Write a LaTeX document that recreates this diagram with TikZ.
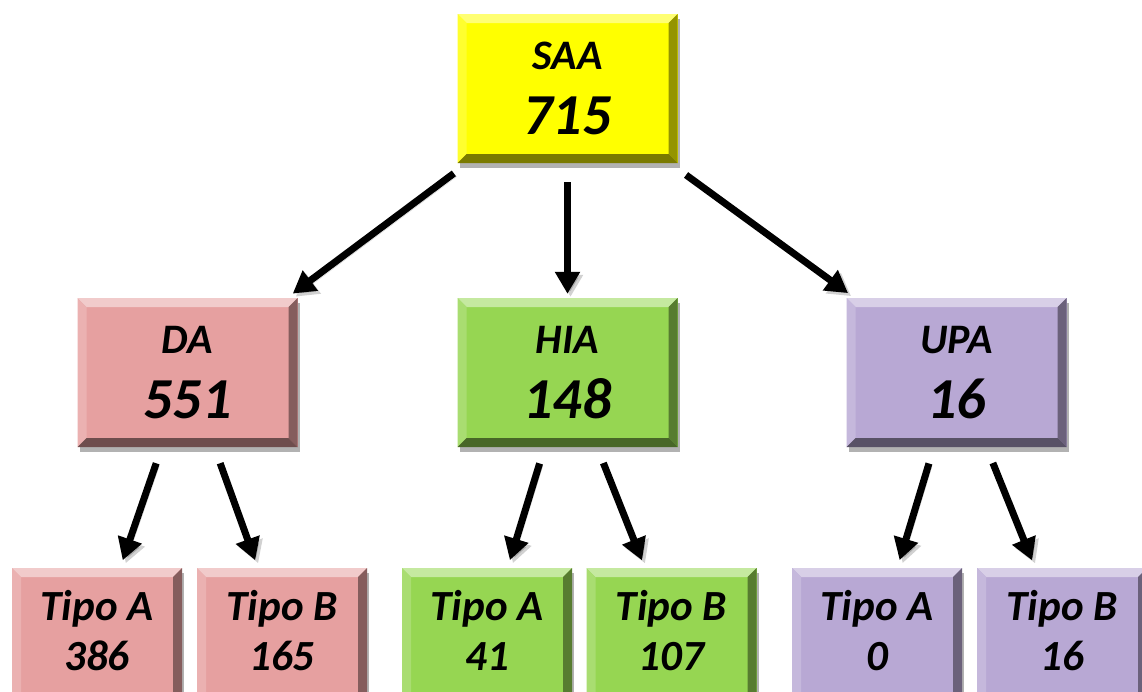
\documentclass[tikz,border=0pt]{standalone}
\usepackage{fontspec}
\setmainfont{Carlito}
\usetikzlibrary{arrows.meta,shadows}
\definecolor{cyel}{HTML}{FFFF00}
\definecolor{cpink}{HTML}{E6A0A0}
\definecolor{cgreen}{HTML}{96D652}
\definecolor{cpurp}{HTML}{B8A8D4}
\newcommand{\bigtxt}[2]{\fontsize{42}{65}\selectfont\begin{tabular}{@{}c@{}}#1\\\fontsize{58}{65}\selectfont #2\end{tabular}}
\newcommand{\smalltxt}[2]{\fontsize{43}{50}\selectfont\begin{tabular}{@{}c@{}}#1\\#2\end{tabular}}
\tikzset{
  bevbox/.style={fill=#1, draw=none, inner sep=0pt, font=\bfseries\itshape, text=black,
    drop shadow={shadow xshift=2pt, shadow yshift=-5pt, opacity=.3, fill=black},
    path picture={
      \fill[#1!55!white] (path picture bounding box.north west) -- (path picture bounding box.north east)
        -- ([shift={(-9pt,-9pt)}]path picture bounding box.north east) -- ([shift={(9pt,-9pt)}]path picture bounding box.north west) -- cycle;
      \fill[#1!82!white] (path picture bounding box.north west) -- (path picture bounding box.south west)
        -- ([shift={(9pt,9pt)}]path picture bounding box.south west) -- ([shift={(9pt,-9pt)}]path picture bounding box.north west) -- cycle;
      \fill[#1!58!black] (path picture bounding box.north east) -- (path picture bounding box.south east)
        -- ([shift={(-9pt,9pt)}]path picture bounding box.south east) -- ([shift={(-9pt,-9pt)}]path picture bounding box.north east) -- cycle;
      \fill[#1!48!black] (path picture bounding box.south west) -- (path picture bounding box.south east)
        -- ([shift={(-9pt,9pt)}]path picture bounding box.south east) -- ([shift={(9pt,9pt)}]path picture bounding box.south west) -- cycle;
    }},
  topbox/.style={bevbox=#1, minimum width=220pt, minimum height=149pt},
  botbox/.style={bevbox=#1, minimum width=170pt, minimum height=134pt},
  conn/.style={line width=7pt, black, -{Triangle[length=22pt,width=24pt]},
    preaction={draw=black, opacity=.18, transform canvas={shift={(3pt,-3pt)}}}}
}
\begin{document}
\begin{tikzpicture}[x=1pt,y=-1pt]
\useasboundingbox (0,0) rectangle (1142,691);
\fill[white] (0,0) rectangle (1142,691);
\node[topbox=cyel] (saa) at (567.5,88.5) {\bigtxt{SAA}{715}};
\node[topbox=cpink] (da) at (187.5,372.5) {\bigtxt{DA}{551}};
\node[topbox=cgreen] (hia) at (567.5,372.5) {\bigtxt{HIA}{148}};
\node[topbox=cpurp] (upa) at (956.5,372.5) {\bigtxt{UPA}{16}};
\node[botbox=cpink] (daA) at (97,635) {\smalltxt{Tipo A}{386}};
\node[botbox=cpink] (daB) at (282,635) {\smalltxt{Tipo B}{165}};
\node[botbox=cgreen] (hiaA) at (487,635) {\smalltxt{Tipo A}{41}};
\node[botbox=cgreen] (hiaB) at (671.5,635) {\smalltxt{Tipo B}{107}};
\node[botbox=cpurp] (upaA) at (877,635) {\smalltxt{Tipo A}{0}};
\node[botbox=cpurp] (upaB) at (1062,635) {\smalltxt{Tipo B}{16}};
\draw[conn, shorten <=17pt, shorten >=7pt] (saa) -- (da);
\draw[conn, shorten <=19pt, shorten >=4pt] (saa) -- (hia);
\draw[conn, shorten <=20pt, shorten >=8pt] (saa) -- (upa);
\draw[conn, shorten <=17pt, shorten >=8pt] (da) -- (daA);
\draw[conn, shorten <=17pt, shorten >=8pt] (da) -- (daB);
\draw[conn, shorten <=17pt, shorten >=8pt] (hia) -- (hiaA);
\draw[conn, shorten <=17pt, shorten >=8pt] (hia) -- (hiaB);
\draw[conn, shorten <=17pt, shorten >=8pt] (upa) -- (upaA);
\draw[conn, shorten <=17pt, shorten >=8pt] (upa) -- (upaB);
\end{tikzpicture}
\end{document}
